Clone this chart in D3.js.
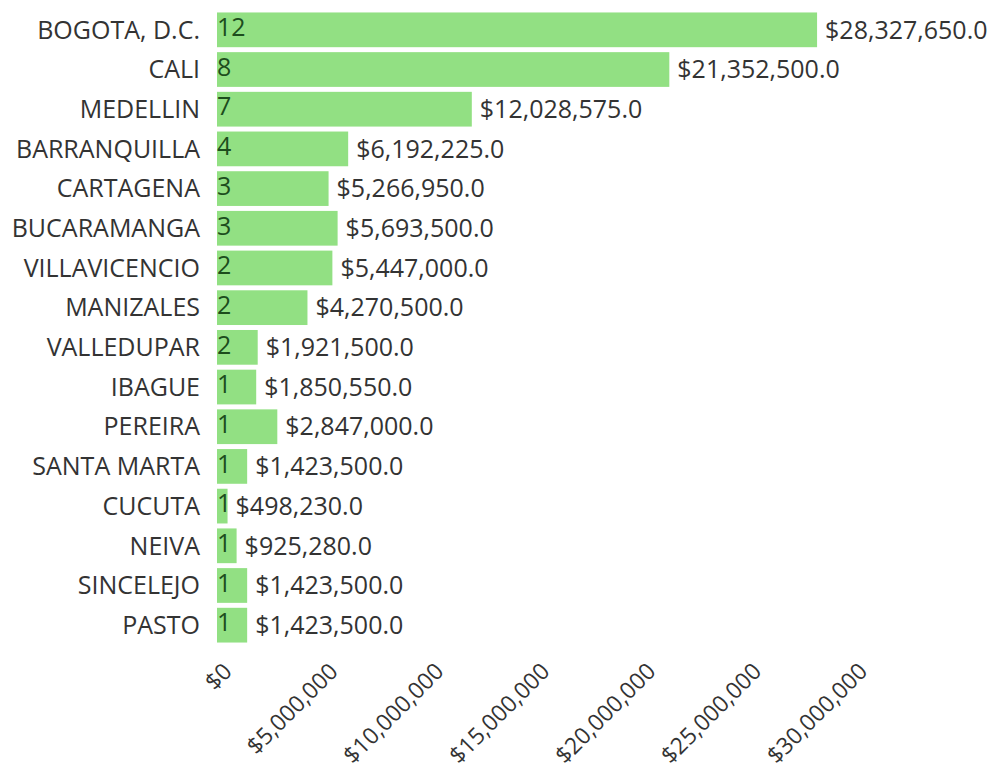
<!DOCTYPE html>
<html>
<head>
<meta charset="utf-8">
<script src="https://cdn.jsdelivr.net/npm/d3@7"></script>
<style>
  body { margin: 0; background: #fff; }
  text { font-family: "Open Sans", sans-serif; }
</style>
</head>
<body>
<svg width="991" height="774"></svg>
<script>
// cities, amounts and number of entries per city
const cities = ['BOGOTA, D.C.', 'CALI', 'MEDELLIN', 'BARRANQUILLA', 'CARTAGENA', 'BUCARAMANGA',
    'VILLAVICENCIO', 'MANIZALES', 'VALLEDUPAR', 'IBAGUE', 'PEREIRA', 'SANTA MARTA',
    'CUCUTA', 'NEIVA', 'SINCELEJO', 'PASTO'];
const amounts = [28327650, 21352500, 12028575, 6192225, 5266950, 5693500,
    5447000, 4270500, 1921500, 1850550, 2847000, 1423500,
    498230, 925280, 1423500, 1423500];
const counts = [12, 8, 7, 4, 3, 3, 2, 2, 2, 1, 1, 1, 1, 1, 1, 1];
const tickValues = [0, 5000000, 10000000, 15000000, 20000000, 25000000, 30000000];

const rows = cities.map((c, i) => ({ city: c, amount: amounts[i], count: counts[i] }));

const svg = d3.select('svg');
const left = 217;
const fontSize = '25px';

const x = d3.scaleLinear()
    .domain([0, 30000000])
    .range([left, left + 635.5]);

const y = d3.scaleBand()
    .domain(cities)
    .range([7.5, 647.5])
    .padding(0.125);

const moneyTick = d3.format('$,.0f');
const moneyLabel = d3.format('$,.1f');

// bars
svg.append('g')
    .selectAll('rect')
    .data(rows)
    .join('rect')
    .attr('x', x(0))
    .attr('y', d => y(d.city))
    .attr('width', d => x(d.amount) - x(0))
    .attr('height', y.bandwidth())
    .style('fill', '#92e083');

// city names
svg.append('g')
    .selectAll('text')
    .data(rows)
    .join('text')
    .attr('x', 200)
    .attr('y', d => y(d.city) + y.bandwidth() / 2)
    .attr('dy', '0.35em')
    .style('text-anchor', 'end')
    .style('font-size', fontSize)
    .style('fill', '#333')
    .text(d => d.city);

// counts inside bars
svg.append('g')
    .selectAll('text')
    .data(rows)
    .join('text')
    .attr('x', x(0))
    .attr('y', d => y(d.city) + y.bandwidth() / 2)
    .attr('dy', '0.25em')
    .style('font-size', fontSize)
    .style('fill', '#1d4d1d')
    .text(d => d.count);

// amounts after bars
svg.append('g')
    .selectAll('text')
    .data(rows)
    .join('text')
    .attr('x', d => x(d.amount) + 8)
    .attr('y', d => y(d.city) + y.bandwidth() / 2)
    .attr('dy', '0.35em')
    .style('font-size', fontSize)
    .style('fill', '#333')
    .text(d => moneyLabel(d.amount));

// x axis, labels only, rotated
const axis = svg.append('g')
    .attr('transform', 'translate(0,655)')
    .call(d3.axisBottom(x).tickValues(tickValues).tickFormat(moneyTick).tickSize(0));

axis.select('.domain').remove();
axis.selectAll('text')
    .style('font-family', '"Open Sans", sans-serif')
    .style('font-size', '23px')
    .style('fill', '#333')
    .style('text-anchor', 'end')
    .attr('dy', '0.35em')
    .attr('transform', 'translate(8,10) rotate(-45)');
</script>
</body>
</html>
